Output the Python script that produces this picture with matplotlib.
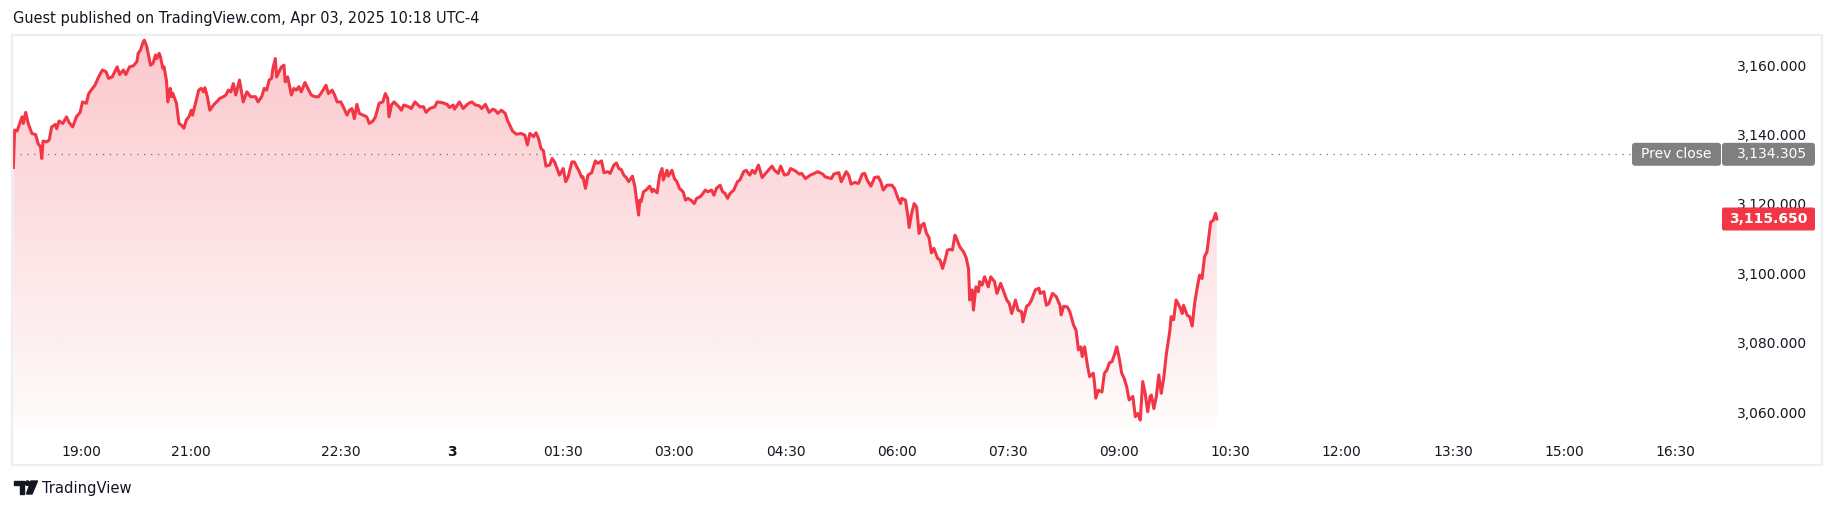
import matplotlib
matplotlib.use("Agg")
import matplotlib.pyplot as plt
import numpy as np
from matplotlib.patches import FancyBboxPatch, Polygon, Circle
from matplotlib.transforms import IdentityTransform
from matplotlib.colors import LinearSegmentedColormap

# ---------------- data (minutes after 18:00 ET, Apr 02 2025) ----------------
minutes = [5, 6, 8, 12, 13, 15, 17, 20, 23, 25, 27, 28, 29, 32, 34, 36, 39, 40, 42, 45,
           48, 50, 53, 56, 59, 61, 64, 66, 68, 71, 74, 77, 80, 82, 85, 89, 91, 94, 96, 99,
           102, 105, 106, 108, 110, 111, 113, 116, 118, 120, 121, 123, 124, 126, 127, 129, 130, 132, 133, 134,
           137, 139, 141, 143, 145, 147, 149, 150, 152, 155, 157, 159, 160, 162, 164, 167, 170, 172, 175, 177,
           179, 181, 183, 185, 188, 191, 194, 197, 201, 203, 206, 208, 210, 212, 214, 215, 217, 218, 220, 222,
           224, 225, 227, 230, 232, 234, 236, 238, 241, 244, 246, 249, 252, 254, 258, 260, 263, 265, 267, 270,
           272, 275, 277, 279, 281, 283, 285, 288, 291, 293, 296, 298, 301, 304, 306, 308, 309, 311, 313, 317,
           319, 321, 325, 327, 330, 334, 337, 339, 342, 346, 348, 352, 356, 358, 361, 362, 366, 369, 373, 376,
           379, 382, 384, 387, 390, 393, 395, 397, 400, 403, 405, 409, 412, 416, 419, 421, 423, 426, 428, 430,
           432, 434, 436, 439, 441, 443, 445, 447, 450, 452, 454, 457, 459, 461, 463, 465, 466, 468, 470, 473,
           476, 478, 481, 483, 486, 488, 491, 493, 495, 497, 499, 501, 503, 506, 508, 509, 511, 512, 513, 515,
           517, 520, 522, 523, 526, 528, 530, 531, 534, 535, 538, 540, 542, 544, 547, 549, 551, 554, 556, 558,
           561, 563, 565, 567, 570, 572, 574, 577, 579, 581, 583, 585, 588, 591, 593, 596, 598, 601, 603, 605,
           608, 611, 615, 619, 621, 624, 626, 629, 632, 634, 638, 641, 643, 646, 650, 652, 656, 660, 662, 667,
           669, 673, 675, 679, 681, 683, 686, 689, 692, 694, 696, 699, 702, 705, 707, 709, 712, 716, 718, 721,
           723, 724, 727, 729, 730, 732, 734, 736, 738, 740, 742, 744, 746, 748, 750, 753, 755, 757, 759, 761,
           763, 765, 767, 768, 771, 774, 776, 778, 779, 781, 782, 784, 786, 787, 789, 791, 794, 796, 799, 801,
           804, 806, 809, 811, 813, 816, 818, 821, 822, 825, 827, 829, 832, 835, 836, 839, 841, 843, 846, 849,
           852, 853, 855, 858, 860, 863, 865, 867, 869, 870, 872, 874, 876, 879, 880, 881, 883, 886, 888, 890,
           892, 894, 896, 898, 900, 902, 904, 906, 908, 911, 913, 915, 917, 919, 921, 923, 925, 926, 928, 930,
           932, 934, 936, 938, 941, 942, 944, 946, 949, 951, 952, 955, 957, 959, 961, 963, 965, 967, 969, 971,
           972, 974, 976, 978, 979]

prices = [3130.5, 3141.3, 3141.0, 3145.1, 3143.2, 3146.4, 3143.2, 3140.3, 3140.0, 3137.4,
          3136.4, 3133.1, 3138.1, 3137.9, 3138.4, 3142.2, 3142.9, 3141.7, 3143.9, 3143.2,
          3145.1, 3143.5, 3142.2, 3145.1, 3146.4, 3149.4, 3149.0, 3151.8, 3152.8, 3154.2,
          3156.6, 3158.6, 3158.1, 3156.2, 3156.6, 3159.5, 3157.3, 3158.6, 3157.3, 3159.5,
          3159.8, 3161.0, 3163.4, 3164.4, 3166.7, 3167.2, 3165.3, 3160.0, 3160.5, 3162.9,
          3161.9, 3163.4, 3162.4, 3159.0, 3159.5, 3155.2, 3149.4, 3153.3, 3150.9, 3151.9,
          3149.0, 3143.2, 3142.7, 3141.8, 3144.2, 3145.1, 3147.0, 3145.6, 3148.5, 3152.8,
          3153.3, 3152.3, 3153.5, 3150.9, 3147.0, 3148.5, 3149.6, 3150.4, 3150.9, 3151.4,
          3152.8, 3152.3, 3154.7, 3151.4, 3155.7, 3149.4, 3152.3, 3150.9, 3150.9, 3149.4,
          3150.9, 3153.3, 3152.8, 3155.7, 3156.2, 3159.0, 3161.9, 3156.6, 3158.1, 3159.5,
          3160.0, 3155.2, 3156.6, 3151.4, 3153.3, 3152.8, 3153.8, 3152.3, 3155.0, 3152.8,
          3151.4, 3150.9, 3150.9, 3151.9, 3154.2, 3151.8, 3152.8, 3151.4, 3149.4, 3149.4,
          3148.0, 3145.6, 3147.0, 3147.5, 3144.6, 3148.7, 3146.1, 3145.6, 3145.1, 3143.2,
          3143.9, 3145.1, 3149.0, 3149.4, 3151.8, 3150.4, 3145.1, 3148.5, 3149.4, 3148.0,
          3147.0, 3148.5, 3148.0, 3147.5, 3149.4, 3148.0, 3148.0, 3146.4, 3147.5, 3148.0,
          3149.4, 3149.2, 3148.7, 3147.8, 3148.5, 3147.3, 3149.4, 3147.5, 3148.9, 3149.4,
          3148.5, 3148.3, 3147.5, 3148.7, 3146.4, 3147.3, 3147.0, 3146.1, 3147.0, 3146.1,
          3144.0, 3141.0, 3140.1, 3140.3, 3139.8, 3137.0, 3140.3, 3139.4, 3140.5, 3138.9,
          3136.0, 3135.3, 3130.9, 3131.2, 3133.1, 3132.1, 3130.2, 3128.3, 3130.2, 3126.4,
          3127.8, 3132.1, 3132.1, 3130.7, 3129.3, 3127.6, 3127.8, 3124.5, 3128.3, 3129.0,
          3132.4, 3131.7, 3132.4, 3129.0, 3129.3, 3128.8, 3131.2, 3131.8, 3130.2, 3129.9,
          3128.3, 3127.6, 3126.4, 3128.0, 3125.0, 3122.1, 3116.8, 3121.1, 3120.6, 3123.5,
          3124.0, 3125.1, 3123.5, 3124.2, 3123.2, 3128.3, 3130.2, 3126.9, 3129.7, 3128.0,
          3129.7, 3127.3, 3126.4, 3124.5, 3123.5, 3121.1, 3121.6, 3120.9, 3120.1, 3121.6,
          3122.1, 3123.0, 3124.0, 3123.5, 3124.0, 3122.5, 3124.5, 3125.4, 3123.5, 3123.0,
          3121.6, 3123.0, 3124.0, 3126.4, 3126.9, 3129.3, 3129.7, 3128.3, 3129.7, 3128.8,
          3131.2, 3127.6, 3129.3, 3130.9, 3129.7, 3128.8, 3130.9, 3128.3, 3128.6, 3130.2,
          3129.5, 3128.6, 3128.8, 3127.3, 3128.3, 3128.6, 3129.3, 3128.6, 3127.8, 3127.3,
          3128.6, 3129.0, 3126.4, 3129.3, 3128.3, 3125.7, 3126.2, 3125.9, 3128.6, 3128.8,
          3126.9, 3125.1, 3127.6, 3127.8, 3126.4, 3124.0, 3125.4, 3125.4, 3124.5, 3121.6,
          3120.1, 3121.6, 3121.1, 3116.3, 3113.2, 3117.3, 3120.1, 3119.1, 3111.5, 3113.9,
          3114.4, 3111.5, 3110.3, 3105.9, 3107.2, 3104.3, 3103.8, 3101.4, 3103.8, 3106.7,
          3106.9, 3106.7, 3111.0, 3110.3, 3107.6, 3106.2, 3104.6, 3101.4, 3092.3, 3095.2,
          3089.4, 3096.1, 3094.7, 3097.6, 3096.6, 3099.0, 3096.1, 3099.0, 3097.6, 3094.2,
          3097.1, 3095.2, 3092.3, 3091.3, 3088.4, 3092.3, 3089.4, 3088.9, 3086.0, 3090.5,
          3091.0, 3092.3, 3095.2, 3095.7, 3094.2, 3094.7, 3090.8, 3091.3, 3094.2, 3093.3,
          3090.8, 3088.0, 3090.5, 3090.3, 3088.9, 3085.1, 3083.6, 3077.9, 3078.8, 3076.0,
          3078.8, 3074.0, 3070.2, 3071.2, 3068.3, 3064.0, 3066.3, 3065.8, 3071.2, 3072.1,
          3074.2, 3074.5, 3076.4, 3078.8, 3075.5, 3071.2, 3069.7, 3067.3, 3063.5, 3064.5,
          3058.7, 3059.6, 3057.7, 3068.8, 3065.4, 3060.1, 3064.5, 3064.9, 3061.0, 3064.5,
          3070.7, 3065.4, 3069.8, 3076.4, 3083.6, 3087.5, 3086.6, 3092.3, 3090.3, 3088.4,
          3090.8, 3087.9, 3087.5, 3084.8, 3091.3, 3095.7, 3099.5, 3098.5, 3104.8, 3106.2,
          3109.1, 3114.8, 3115.2, 3117.3, 3115.65]

prev_close = 3134.305
last_price = 3115.650

price_ticks = [3060, 3080, 3100, 3120, 3140, 3160]
time_tick_minutes = [60, 149, 270, 360, 450, 540, 630, 720, 810, 900, 990, 1080, 1170, 1260, 1350]
time_tick_labels = ["19:00", "21:00", "22:30", "3", "01:30", "03:00", "04:30", "06:00",
                    "07:30", "09:00", "10:30", "12:00", "13:30", "15:00", "16:30"]

title = "Guest published on TradingView.com, Apr 03, 2025 10:18 UTC-4"

# ---------------- styling ----------------
RED = "#F23645"
TXT = "#131722"
W, H, DPI = 1835, 513, 100
plt.rcParams['font.family'] = ["DejaVu Sans"]

fig = plt.figure(figsize=(W / DPI, H / DPI), dpi=DPI)
fig.patch.set_facecolor("white")
PX = IdentityTransform()


def fig_rect(x0, y_top, w, h, color, rounding=0.0, z=5, lw=0, ec=None, fill=True):
    p = FancyBboxPatch((x0, H - y_top - h), w, h,
                       boxstyle=f"round,pad=0,rounding_size={rounding}" if rounding else "square,pad=0",
                       transform=PX, facecolor=color if fill else "none",
                       edgecolor=ec if ec else "none", linewidth=lw, zorder=z)
    fig.patches.append(p)
    return p


# outer frame of the chart widget
fig_rect(12, 35, 1810, 430, "none", z=1, lw=1.6, ec="#ECEEF2", fill=False)

# pane axes
pane_l, pane_r, pane_t, pane_b = 13, 1721, 36, 427
ax = fig.add_axes([pane_l / W, 1 - pane_b / H, (pane_r - pane_l) / W, (pane_b - pane_t) / H])
ax.set_facecolor("none")
x = np.array(minutes, dtype=float)
y = np.array(prices)
ax.set_xlim(4.7, 1387)
ax.set_ylim(3055.7, 3168.4)
for s in ax.spines.values():
    s.set_visible(False)

# gradient area fill
ymin, ymax = ax.get_ylim()
cmap = LinearSegmentedColormap.from_list(
    "area", [(242 / 255, 54 / 255, 69 / 255, 0.02), (242 / 255, 54 / 255, 69 / 255, 0.28)])
grad = np.linspace(0, 1, 256).reshape(-1, 1)
poly = ax.fill_between(x, y, ymin, color="none", linewidth=0)
im = ax.imshow(grad, cmap=cmap, aspect="auto", origin="lower",
               extent=[x[0], x[-1], ymin, ymax], zorder=1, interpolation="bicubic")
clip = Polygon(poly.get_paths()[0].vertices, closed=True, transform=ax.transData)
im.set_clip_path(clip)
ax.set_xlim(4.7, 1387)
ax.set_ylim(ymin, ymax)

ax.plot(x, y, color=RED, lw=2.2, zorder=3, solid_joinstyle="round")

# previous close dotted line
ax.axhline(prev_close, color="#787B86", lw=0.9, linestyle=(0, (1.1, 4.4)), zorder=2)

# axes ticks
ax.set_xticks(time_tick_minutes)
ax.set_xticklabels(time_tick_labels)
ax.tick_params(axis="x", length=0, pad=13, labelsize=10, labelcolor=TXT)
for lab in ax.get_xticklabels():
    if lab.get_text() == "3":
        lab.set_fontweight("bold")
ax.yaxis.tick_right()
ax.set_yticks(price_ticks)
ax.set_yticklabels([f"{v:,.3f}" for v in price_ticks])
ax.tick_params(axis="y", length=0, pad=62, labelsize=10, labelcolor=TXT)
for lab in ax.get_yticklabels():
    lab.set_horizontalalignment("right")


def y_px(val):
    return H - ax.transData.transform((0, val))[1]


# prev close label
yc = y_px(prev_close)
fig_rect(1632, yc - 11.5, 89, 23, "#808080", rounding=3, z=6)
fig_rect(1722, yc - 11.5, 93, 23, "#808080", rounding=3, z=6)
fig.text(1676.5 / W, 1 - yc / H, "Prev close", color="white", fontsize=10,
         ha="center", va="center", zorder=7)
fig.text(1807 / W, 1 - yc / H, f"{prev_close:,.3f}", color="white", fontsize=10,
         ha="right", va="center", zorder=7)

# last price label
yl = y_px(last_price)
fig_rect(1722, yl - 11.5, 93, 23, RED, rounding=2, z=6)
fig.text(1807 / W, 1 - yl / H, f"{last_price:,.3f}", color="white", fontsize=10,
         ha="right", va="center", zorder=7, fontweight="bold")

# title
fig.text(13 / W, 1 - 18 / H, title, color=TXT, fontsize=10.45, ha="left", va="center")

# TradingView logo
for verts in ([(14, 481), (24, 481), (24, 494), (20, 494), (20, 485), (14, 485)],
              [(31, 481), (37.5, 481), (32, 494), (26.5, 494)]):
    fig.patches.append(Polygon([(a, H - b) for a, b in verts], closed=True,
                               transform=PX, color=TXT, zorder=5))
fig.patches.append(Circle((27.5, H - 483.2), 2.2, transform=PX, color=TXT, zorder=5))
fig.text(42 / W, 1 - 488 / H, "TradingView", color=TXT, fontsize=11.8,
         ha="left", va="center", fontstretch="condensed", fontweight="medium")

fig.savefig("out.png", dpi=DPI, facecolor="white")
